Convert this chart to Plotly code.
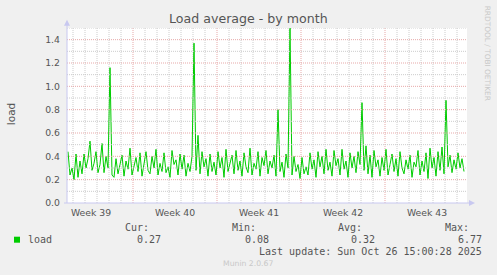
import pandas as pd
import plotly.graph_objects as go

# ---- data ----
start_time = "2025-09-23 14:00"
step = "4h"
load_values = [
    0.44, 0.24, 0.30, 0.20, 0.42, 0.22,
    0.36, 0.25, 0.42, 0.30, 0.38, 0.53,
    0.28, 0.34, 0.44, 0.26, 0.33, 0.51,
    0.26, 0.40, 0.30, 1.16, 0.24, 0.22,
    0.38, 0.25, 0.33, 0.41, 0.23, 0.36,
    0.29, 0.47, 0.24, 0.32, 0.39, 0.27,
    0.43, 0.23, 0.35, 0.44, 0.28, 0.25,
    0.40, 0.30, 0.46, 0.24, 0.34, 0.27,
    0.43, 0.26, 0.31, 0.22, 0.45, 0.33,
    0.37, 0.24, 0.42, 0.29, 0.41, 0.23,
    0.34, 0.27, 0.40, 1.37, 0.28, 0.58,
    0.25, 0.44, 0.31, 0.38, 0.23, 0.42,
    0.27, 0.35, 0.24, 0.44, 0.30, 0.39,
    0.22, 0.46, 0.27, 0.33, 0.41, 0.25,
    0.45, 0.28, 0.36, 0.23, 0.43, 0.31,
    0.26, 0.47, 0.24, 0.34, 0.29, 0.44,
    0.23, 0.39, 0.32, 0.45, 0.25, 0.36,
    0.30, 0.41, 0.23, 0.80, 0.27, 0.35,
    0.22, 0.42, 0.30, 1.50, 0.24, 0.40,
    0.27, 0.33, 0.21, 0.39, 0.25, 0.31,
    0.24, 0.43, 0.29, 0.37, 0.22, 0.44,
    0.31, 0.40, 0.25, 0.46, 0.28, 0.35,
    0.23, 0.45, 0.32, 0.38, 0.24, 0.46,
    0.29, 0.36, 0.22, 0.43, 0.30, 0.40,
    0.26, 0.44, 0.33, 0.86, 0.28, 0.49,
    0.25, 0.41, 0.22, 0.45, 0.31, 0.37,
    0.23, 0.39, 0.28, 0.46, 0.24, 0.33,
    0.42, 0.27, 0.38, 0.23, 0.44, 0.30,
    0.25, 0.37, 0.29, 0.41, 0.22, 0.35,
    0.31, 0.45, 0.24, 0.36, 0.27, 0.43,
    0.21, 0.47, 0.30, 0.39, 0.23, 0.44,
    0.28, 0.48, 0.25, 0.88, 0.31, 0.41,
    0.26, 0.37, 0.29, 0.43, 0.30, 0.38,
    0.27,
]
week_labels = ["Week 39", "Week 40", "Week 41", "Week 42", "Week 43"]
week_label_times = ["2025-09-25 12:00", "2025-10-02 12:00", "2025-10-09 12:00",
                    "2025-10-16 12:00", "2025-10-23 12:00"]
y_ticks = [0.0, 0.2, 0.4, 0.6, 0.8, 1.0, 1.2, 1.4]
stat_names = ["Cur:", "Min:", "Avg:", "Max:"]
stat_values = ["0.27", "0.08", "0.32", "6.77"]
series_name = "load"
last_update = "Last update: Sun Oct 26 15:00:28 2025"

x_range = ["2025-09-23 12:00", "2025-10-26 20:00"]
y_range = [0, 1.5]

times = pd.date_range(start=start_time, periods=len(load_values), freq=step)

# ---- geometry helpers (pixel -> paper) ----
W, H = 497, 275
L, R, T, B = 67, 467, 28.3, 203.3
def X(px):
    return (px - L) / (R - L)
def Y(py):
    return (B - py) / (B - T)

TXT = "#555555"
GRID_MINOR = "rgba(200,200,200,0.9)"
GRID_MAJOR = "rgba(228,160,160,0.9)"
AXIS = "#C8C8F0"
GREEN = "#00CC00"

fig = go.Figure()
fig.add_trace(go.Scatter(x=times, y=load_values, mode="lines",
                         line=dict(color=GREEN, width=1), showlegend=False,
                         hoverinfo="skip"))

shapes = []
# vertical day grid
days = pd.date_range("2025-09-24", "2025-10-26", freq="D")
for d in days:
    col = GRID_MAJOR if d.dayofweek == 0 else GRID_MINOR
    shapes.append(dict(type="line", xref="x", yref="y", x0=d, x1=d, y0=0, y1=1.5,
                       line=dict(color=col, width=1, dash="1px,1px"), layer="below"))
# horizontal grid
for i in range(1, 16):
    v = i / 10
    col = GRID_MAJOR if i % 2 == 0 else GRID_MINOR
    shapes.append(dict(type="line", xref="paper", yref="y", x0=0, x1=1, y0=v, y1=v,
                       line=dict(color=col, width=1, dash="1px,1px"), layer="above"))
# axes lines with arrows
shapes.append(dict(type="line", xref="paper", yref="paper", x0=X(67), x1=X(67),
                   y0=Y(203.3), y1=Y(24), line=dict(color=AXIS, width=1)))
shapes.append(dict(type="line", xref="paper", yref="paper", x0=X(64), x1=X(470),
                   y0=Y(203.3), y1=Y(203.3), line=dict(color=AXIS, width=1)))
shapes.append(dict(type="path", xref="paper", yref="paper",
                   path=f"M {X(64)} {Y(26)} L {X(70)} {Y(26)} L {X(67)} {Y(20)} Z",
                   fillcolor=AXIS, line=dict(width=0)))
shapes.append(dict(type="path", xref="paper", yref="paper",
                   path=f"M {X(469)} {Y(200.3)} L {X(469)} {Y(206.3)} L {X(475)} {Y(203.3)} Z",
                   fillcolor=AXIS, line=dict(width=0)))
# legend square
shapes.append(dict(type="rect", xref="paper", yref="paper", x0=X(14), x1=X(20),
                   y0=Y(237), y1=Y(243), fillcolor=GREEN, line=dict(width=0)))

ann = []
ann.append(dict(text="Load average - by month", x=X(248), y=Y(19), xref="paper", yref="paper",
                showarrow=False, xanchor="center", yanchor="middle",
                font=dict(family="DejaVu Sans", size=12.6, color=TXT)))
ann.append(dict(text="load", x=X(10.5), y=Y(115), xref="paper", yref="paper", textangle=-90,
                showarrow=False, xanchor="center", yanchor="middle",
                font=dict(family="DejaVu Sans", size=10.5, color=TXT)))
ann.append(dict(text="RRDTOOL / TOBI OETIKER", x=X(487), y=Y(53), xref="paper", yref="paper",
                textangle=90, showarrow=False, xanchor="center", yanchor="middle",
                font=dict(family="DejaVu Sans", size=7.4, color="#C8C8C8")))
MONO = dict(family="DejaVu Sans Mono", size=10, color=TXT)
stat_right = [151, 258, 364, 471]
val_right = [163, 271, 377, 484]
for name, v, xr, xv in zip(stat_names, stat_values, stat_right, val_right):
    ann.append(dict(text=name, x=X(xr), y=Y(227.7), xref="paper", yref="paper",
                    showarrow=False, xanchor="right", yanchor="middle", font=MONO))
    ann.append(dict(text=v, x=X(xv), y=Y(239.7), xref="paper", yref="paper",
                    showarrow=False, xanchor="right", yanchor="middle", font=MONO))
ann.append(dict(text=series_name, x=X(26), y=Y(239.7), xref="paper", yref="paper",
                showarrow=False, xanchor="left", yanchor="middle", font=MONO))
ann.append(dict(text=last_update, x=X(484), y=Y(251.7), xref="paper", yref="paper",
                showarrow=False, xanchor="right", yanchor="middle", font=MONO))
ann.append(dict(text="Munin 2.0.67", x=X(248), y=Y(263.3), xref="paper", yref="paper",
                showarrow=False, xanchor="center", yanchor="middle",
                font=dict(family="DejaVu Sans", size=7.7, color="#C8C8C8")))

fig.update_layout(
    width=W, height=H,
    margin=dict(l=L, r=W - R, t=T, b=H - B, pad=0),
    paper_bgcolor="#F0F0F0", plot_bgcolor="#FFFFFF",
    shapes=shapes, annotations=ann, showlegend=False,
    xaxis=dict(type="date", range=x_range, showgrid=False, zeroline=False,
               tickvals=week_label_times, ticktext=week_labels, ticks="",
               ticklabelstandoff=3,
               tickfont=dict(family="DejaVu Sans", size=9.3, color=TXT), fixedrange=True),
    yaxis=dict(range=y_range, showgrid=False, zeroline=False, tickvals=y_ticks,
               tickformat=".1f", ticks="", ticklabelstandoff=6,
               tickfont=dict(family="DejaVu Sans", size=9.3, color=TXT), fixedrange=True),
)

fig.write_html("out.html")
